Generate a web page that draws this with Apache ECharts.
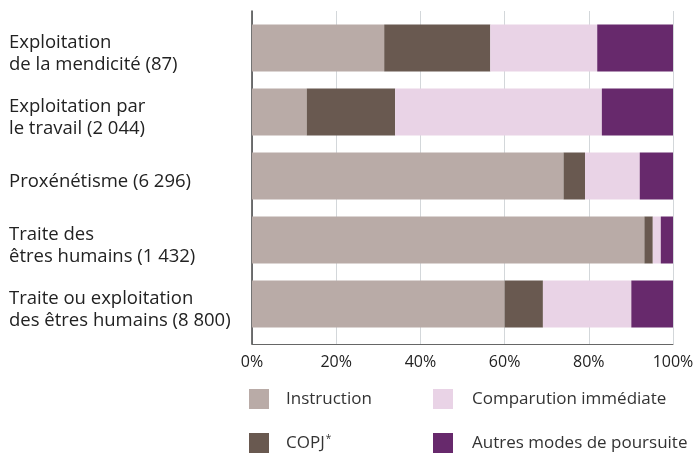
<!DOCTYPE html>
<html>
<head>
<meta charset="utf-8">
<script src="https://cdn.jsdelivr.net/npm/echarts@6/dist/echarts.min.js"></script>
<style>
  html, body { margin: 0; padding: 0; background: #fff; }
  #chart { width: 698px; height: 457px; }
</style>
</head>
<body>
<div id="chart"></div>
<script>
// categories, top to bottom
var categories = [
  'Exploitation\nde la mendicité (87)',
  'Exploitation par\nle travail (2 044)',
  'Proxénétisme (6 296)',
  'Traite des\nêtres humains (1 432)',
  'Traite ou exploitation\ndes êtres humains (8 800)'
];

// shares in %
var instruction = [31.4, 13.0, 74.0, 93.2, 60.0];
var copj = [25.2, 21.0, 5.1, 2.0, 9.1];
var comparution = [25.4, 49.1, 13.0, 1.9, 21.0];
var autres = [18.0, 16.9, 7.9, 2.9, 9.9];

var xTicks = [0, 20, 40, 60, 80, 100];

var colors = ['#b9aba7', '#695950', '#e9d3e6', '#67296c'];
var font = '"Open Sans", Lato, sans-serif';

var chart = echarts.init(document.getElementById('chart'));

function barSerie(name, data, color) {
  return {
    name: name,
    type: 'bar',
    stack: 'total',
    xAxisIndex: 0,
    yAxisIndex: 0,
    barWidth: 47,
    data: data,
    itemStyle: { color: color },
    emphasis: { disabled: true }
  };
}

var legendText = {
  color: '#333',
  fontFamily: font,
  fontSize: 17,
  padding: [0, 0, 0, 12],
  rich: {
    a: { color: '#333', fontFamily: font, fontSize: 17 },
    s: { color: '#333', fontFamily: font, fontSize: 10, verticalAlign: 'top', padding: [0, 0, 6, 1] }
  }
};

var legendBase = {
  orient: 'vertical',
  top: 389,
  padding: 0,
  height: 70,
  itemWidth: 20,
  itemHeight: 20,
  itemGap: 24,
  icon: 'rect',
  selectedMode: false,
  formatter: function (name) {
    if (name === 'COPJ*') return '{a|COPJ}{s|*}';
    return name;
  }
};

var option = {
  animation: false,
  color: colors,
  grid: [
    // bars
    { left: 252, right: 25, top: 16, height: 320 },
    // frame with gridlines
    { left: 252, right: 25, top: 11, height: 333 },
    // category labels (sit a little lower than the bar centres)
    { left: 252, right: 25, top: 22, height: 320 }
  ],
  xAxis: [
    { gridIndex: 0, type: 'value', min: 0, max: 100, show: false },
    {
      gridIndex: 1,
      type: 'value',
      min: xTicks[0],
      max: xTicks[xTicks.length - 1],
      interval: 20,
      axisLine: { show: true, lineStyle: { color: '#666', width: 1 } },
      axisTick: { show: false },
      splitLine: { show: true, lineStyle: { color: '#d3d7da', width: 1 } },
      axisLabel: {
        formatter: '{value}%',
        color: '#222',
        fontFamily: font,
        fontSize: 16,
        margin: 10
      }
    },
    { gridIndex: 2, type: 'value', min: 0, max: 100, show: false }
  ],
  yAxis: [
    {
      gridIndex: 0,
      type: 'category',
      inverse: true,
      data: categories,
      axisLine: { show: false },
      axisTick: { show: false },
      axisLabel: { show: false }
    },
    {
      gridIndex: 1,
      type: 'value',
      min: 0,
      max: 1,
      axisLine: { show: true, lineStyle: { color: '#444', width: 1.5 } },
      axisTick: { show: false },
      axisLabel: { show: false },
      splitLine: { show: false }
    },
    {
      gridIndex: 2,
      type: 'category',
      inverse: true,
      data: categories,
      axisLine: { show: false },
      axisTick: { show: false },
      axisLabel: {
        align: 'left',
        margin: 243,
        color: '#222',
        fontFamily: font,
        fontSize: 18.5,
        lineHeight: 22
      }
    }
  ],
  legend: [
    Object.assign({}, legendBase, {
      data: ['Instruction', 'COPJ*'],
      left: 249,
      textStyle: legendText
    }),
    Object.assign({}, legendBase, {
      data: ['Comparution immédiate', 'Autres modes de poursuite'],
      left: 433,
      textStyle: Object.assign({}, legendText, { padding: [0, 0, 0, 14] })
    })
  ],
  series: [
    barSerie('Instruction', instruction, colors[0]),
    barSerie('COPJ*', copj, colors[1]),
    barSerie('Comparution immédiate', comparution, colors[2]),
    barSerie('Autres modes de poursuite', autres, colors[3])
  ]
};

chart.setOption(option);
</script>
</body>
</html>
